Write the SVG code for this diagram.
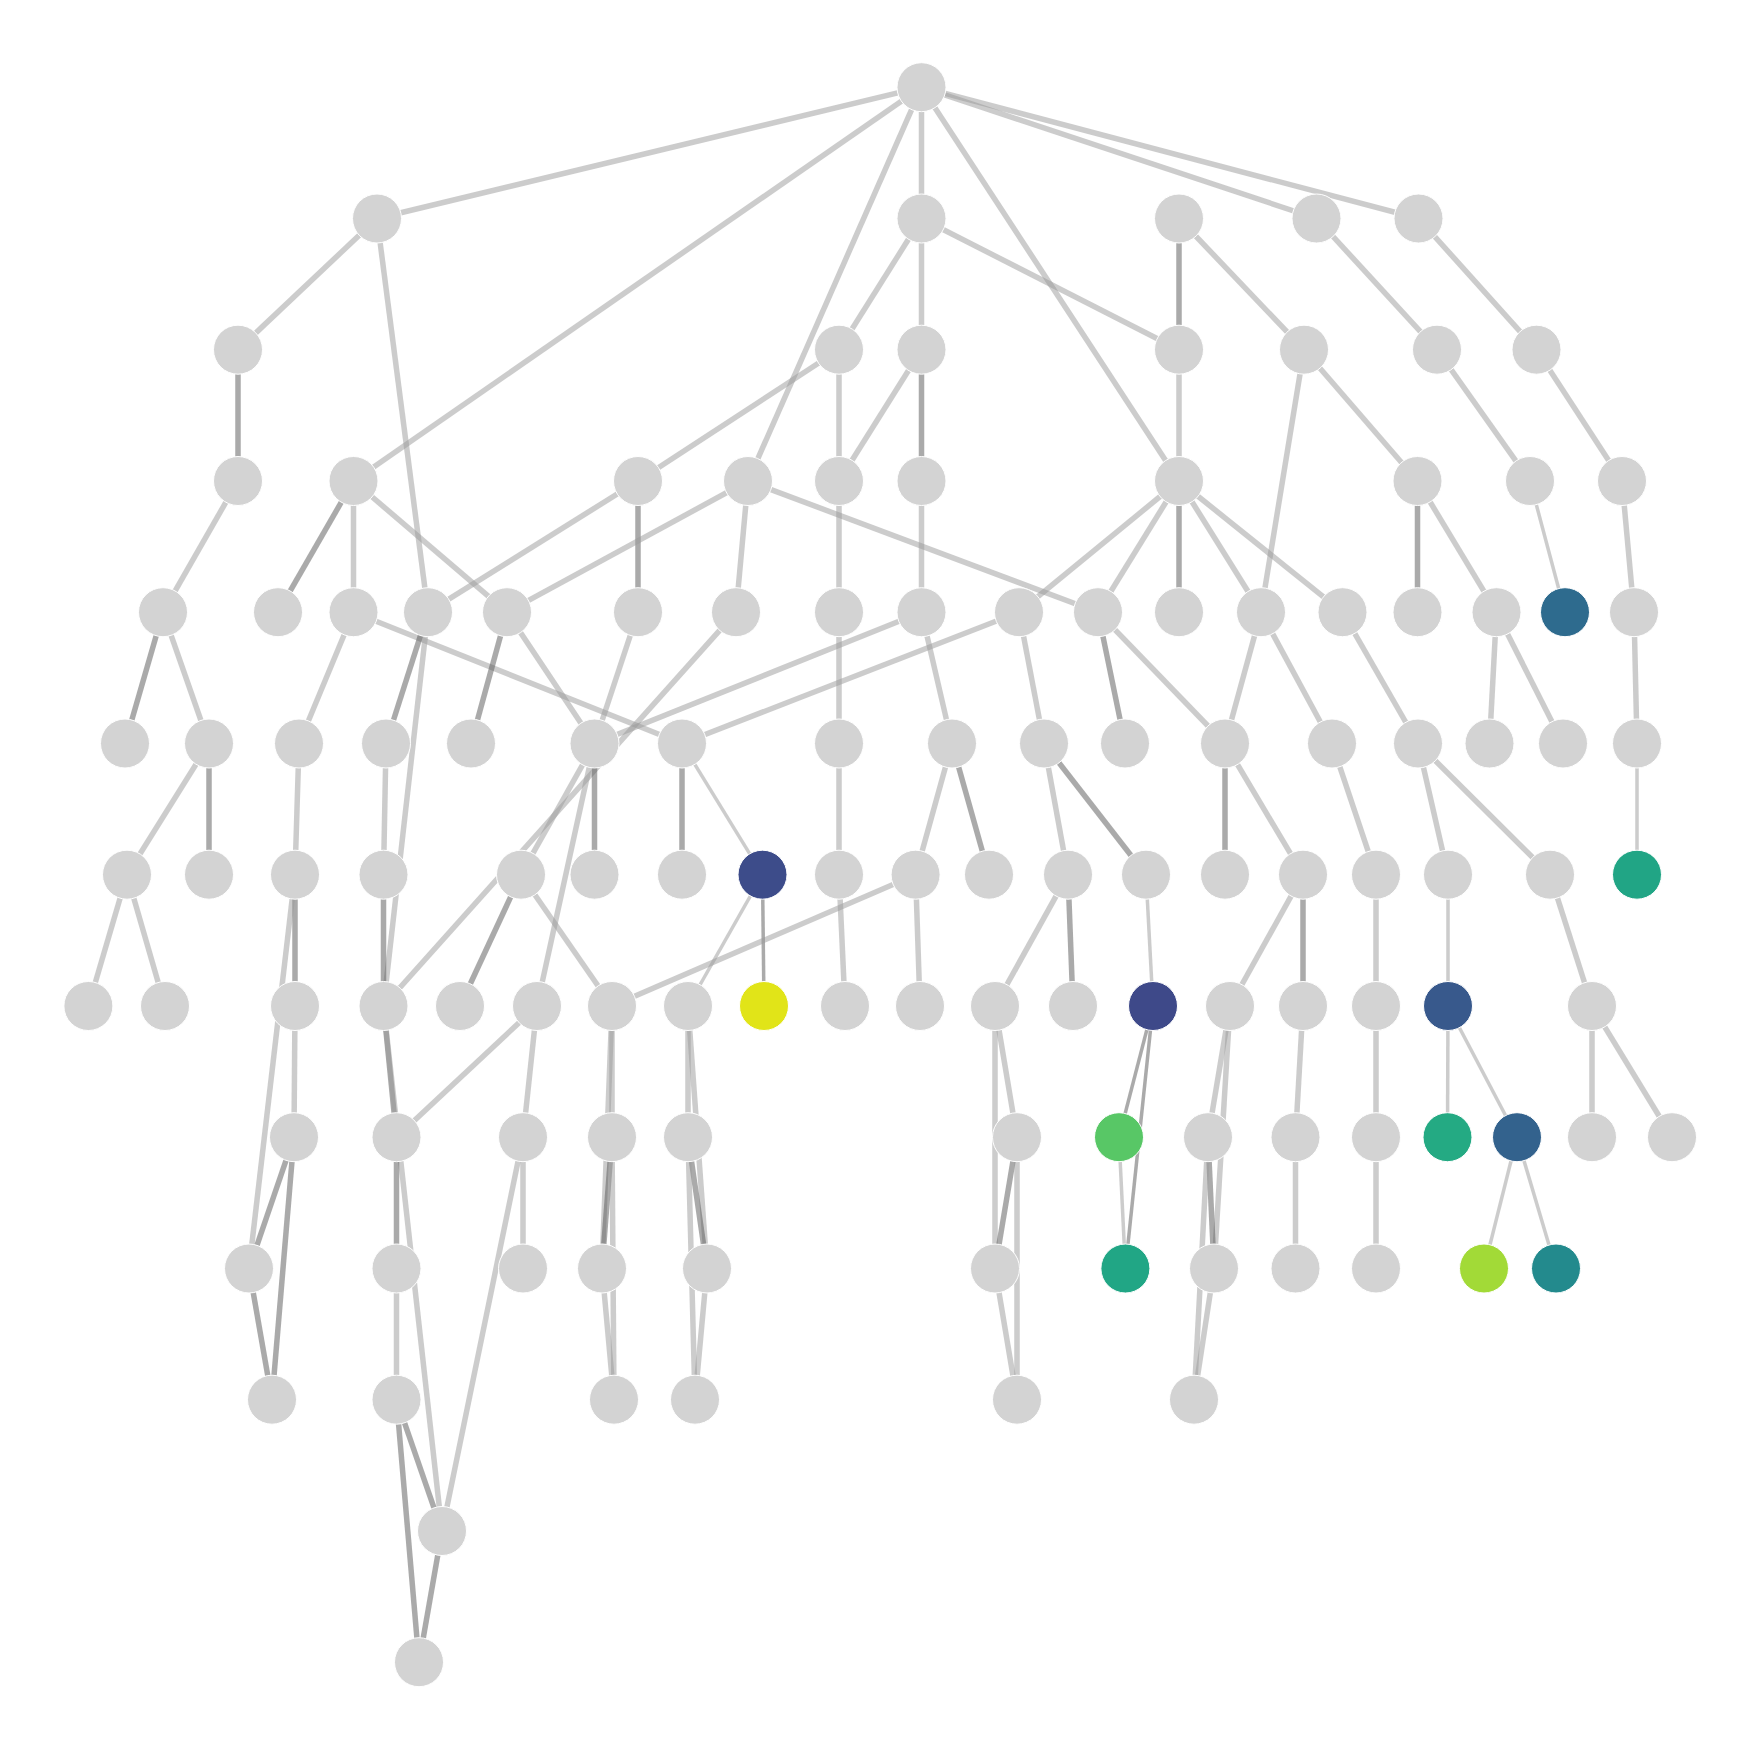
<svg xmlns="http://www.w3.org/2000/svg" width="1761" height="1750" viewBox="0 0 1761 1750">
<style>
.e line{stroke-linecap:butt}
.l{stroke:#999;stroke-opacity:.5;stroke-width:5.5}
.d{stroke:#555;stroke-opacity:.5;stroke-width:5.5}
.t{stroke:#999;stroke-opacity:.5;stroke-width:3.5}
.m{stroke:#555;stroke-opacity:.5;stroke-width:3.5}
.n circle{fill:#d3d3d3;stroke:#fff;stroke-width:1}
</style>
<rect width="1761" height="1750" fill="#fff"/>
<g id="edges" class="e">
<line class="l" x1="921.5" y1="87.2" x2="377" y2="218.5"/>
<line class="l" x1="921.5" y1="87.2" x2="353.5" y2="481"/>
<line class="l" x1="921.5" y1="87.2" x2="748" y2="481"/>
<line class="l" x1="921.5" y1="87.2" x2="921.5" y2="218.5"/>
<line class="l" x1="921.5" y1="87.2" x2="1179" y2="481"/>
<line class="l" x1="921.5" y1="87.2" x2="1316.5" y2="218.5"/>
<line class="l" x1="921.5" y1="87.2" x2="1418.5" y2="218.5"/>
<line class="l" x1="377" y1="218.5" x2="238" y2="349.7"/>
<line class="l" x1="377" y1="218.5" x2="428" y2="612.2"/>
<line class="l" x1="921.5" y1="218.5" x2="839" y2="349.7"/>
<line class="l" x1="921.5" y1="218.5" x2="921.5" y2="349.7"/>
<line class="l" x1="921.5" y1="218.5" x2="1179" y2="349.7"/>
<line class="d" x1="1179" y1="218.5" x2="1179" y2="349.7"/>
<line class="l" x1="1179" y1="218.5" x2="1304" y2="349.7"/>
<line class="l" x1="1316.5" y1="218.5" x2="1437" y2="349.7"/>
<line class="l" x1="1418.5" y1="218.5" x2="1536.5" y2="349.7"/>
<line class="d" x1="238" y1="349.7" x2="238" y2="481"/>
<line class="l" x1="839" y1="349.7" x2="638" y2="481"/>
<line class="l" x1="839" y1="349.7" x2="839" y2="481"/>
<line class="l" x1="921.5" y1="349.7" x2="839" y2="481"/>
<line class="d" x1="921.5" y1="349.7" x2="921.5" y2="481"/>
<line class="l" x1="1179" y1="349.7" x2="1179" y2="481"/>
<line class="l" x1="1304" y1="349.7" x2="1261" y2="612.2"/>
<line class="l" x1="1304" y1="349.7" x2="1417.5" y2="481"/>
<line class="l" x1="1437" y1="349.7" x2="1530" y2="481"/>
<line class="l" x1="1536.5" y1="349.7" x2="1622" y2="481"/>
<line class="l" x1="238" y1="481" x2="163" y2="612.2"/>
<line class="d" x1="353.5" y1="481" x2="278" y2="612.2"/>
<line class="l" x1="353.5" y1="481" x2="353.5" y2="612.2"/>
<line class="l" x1="353.5" y1="481" x2="507" y2="612.2"/>
<line class="l" x1="638" y1="481" x2="428" y2="612.2"/>
<line class="d" x1="638" y1="481" x2="638" y2="612.2"/>
<line class="l" x1="748" y1="481" x2="507" y2="612.2"/>
<line class="l" x1="748" y1="481" x2="736" y2="612.2"/>
<line class="l" x1="748" y1="481" x2="1098" y2="612.2"/>
<line class="l" x1="839" y1="481" x2="839" y2="612.2"/>
<line class="l" x1="921.5" y1="481" x2="921.5" y2="612.2"/>
<line class="l" x1="1179" y1="481" x2="1019" y2="612.2"/>
<line class="l" x1="1179" y1="481" x2="1098" y2="612.2"/>
<line class="d" x1="1179" y1="481" x2="1179" y2="612.2"/>
<line class="l" x1="1179" y1="481" x2="1261" y2="612.2"/>
<line class="l" x1="1179" y1="481" x2="1342.5" y2="612.2"/>
<line class="d" x1="1417.5" y1="481" x2="1417.5" y2="612.2"/>
<line class="l" x1="1417.5" y1="481" x2="1496.5" y2="612.2"/>
<line class="t" x1="1530" y1="481" x2="1565" y2="612.2"/>
<line class="l" x1="1622" y1="481" x2="1634" y2="612.2"/>
<line class="d" x1="163" y1="612.2" x2="125" y2="743.5"/>
<line class="l" x1="163" y1="612.2" x2="209" y2="743.5"/>
<line class="l" x1="353.5" y1="612.2" x2="299" y2="743.5"/>
<line class="l" x1="353.5" y1="612.2" x2="682" y2="743.5"/>
<line class="d" x1="428" y1="612.2" x2="386" y2="743.5"/>
<line class="l" x1="428" y1="612.2" x2="383.5" y2="1006"/>
<line class="d" x1="507" y1="612.2" x2="471" y2="743.5"/>
<line class="l" x1="507" y1="612.2" x2="594.5" y2="743.5"/>
<line class="l" x1="638" y1="612.2" x2="594.5" y2="743.5"/>
<line class="l" x1="736" y1="612.2" x2="383.5" y2="1006"/>
<line class="l" x1="839" y1="612.2" x2="839" y2="743.5"/>
<line class="l" x1="921.5" y1="612.2" x2="952" y2="743.5"/>
<line class="l" x1="921.5" y1="612.2" x2="594.5" y2="743.5"/>
<line class="l" x1="1019" y1="612.2" x2="682" y2="743.5"/>
<line class="l" x1="1019" y1="612.2" x2="1044" y2="743.5"/>
<line class="d" x1="1098" y1="612.2" x2="1125" y2="743.5"/>
<line class="l" x1="1098" y1="612.2" x2="1225" y2="743.5"/>
<line class="l" x1="1261" y1="612.2" x2="1225" y2="743.5"/>
<line class="l" x1="1261" y1="612.2" x2="1332" y2="743.5"/>
<line class="l" x1="1342.5" y1="612.2" x2="1418" y2="743.5"/>
<line class="l" x1="1496.5" y1="612.2" x2="1489.5" y2="743.5"/>
<line class="l" x1="1496.5" y1="612.2" x2="1563" y2="743.5"/>
<line class="l" x1="1634" y1="612.2" x2="1637" y2="743.5"/>
<line class="l" x1="209" y1="743.5" x2="127" y2="874.7"/>
<line class="d" x1="209" y1="743.5" x2="209" y2="874.7"/>
<line class="l" x1="299" y1="743.5" x2="295" y2="874.7"/>
<line class="l" x1="386" y1="743.5" x2="383.5" y2="874.7"/>
<line class="l" x1="594.5" y1="743.5" x2="521" y2="874.7"/>
<line class="d" x1="594.5" y1="743.5" x2="594.5" y2="874.7"/>
<line class="l" x1="594.5" y1="743.5" x2="537" y2="1006"/>
<line class="d" x1="682" y1="743.5" x2="682" y2="874.7"/>
<line class="t" x1="682" y1="743.5" x2="762.5" y2="874.7"/>
<line class="l" x1="839" y1="743.5" x2="839" y2="874.7"/>
<line class="l" x1="952" y1="743.5" x2="915.6" y2="874.7"/>
<line class="d" x1="952" y1="743.5" x2="989" y2="874.7"/>
<line class="l" x1="1044" y1="743.5" x2="1068" y2="874.7"/>
<line class="d" x1="1044" y1="743.5" x2="1146" y2="874.7"/>
<line class="d" x1="1225" y1="743.5" x2="1225" y2="874.7"/>
<line class="l" x1="1225" y1="743.5" x2="1303" y2="874.7"/>
<line class="l" x1="1332" y1="743.5" x2="1376" y2="874.7"/>
<line class="l" x1="1418" y1="743.5" x2="1448" y2="874.7"/>
<line class="l" x1="1418" y1="743.5" x2="1550" y2="874.7"/>
<line class="t" x1="1637" y1="743.5" x2="1637" y2="874.7"/>
<line class="l" x1="127" y1="874.7" x2="88.4" y2="1006"/>
<line class="l" x1="127" y1="874.7" x2="165" y2="1006"/>
<line class="d" x1="295" y1="874.7" x2="295" y2="1006"/>
<line class="l" x1="295" y1="874.7" x2="249" y2="1268.5"/>
<line class="d" x1="383.5" y1="874.7" x2="383.5" y2="1006"/>
<line class="d" x1="521" y1="874.7" x2="460" y2="1006"/>
<line class="l" x1="521" y1="874.7" x2="612" y2="1006"/>
<line class="m" x1="762.5" y1="874.7" x2="764" y2="1006"/>
<line class="t" x1="762.5" y1="874.7" x2="688" y2="1006"/>
<line class="l" x1="839" y1="874.7" x2="845" y2="1006"/>
<line class="l" x1="915.6" y1="874.7" x2="920" y2="1006"/>
<line class="l" x1="915.6" y1="874.7" x2="612" y2="1006"/>
<line class="l" x1="1068" y1="874.7" x2="995" y2="1006"/>
<line class="d" x1="1068" y1="874.7" x2="1073" y2="1006"/>
<line class="t" x1="1146" y1="874.7" x2="1153" y2="1006"/>
<line class="l" x1="1303" y1="874.7" x2="1230" y2="1006"/>
<line class="d" x1="1303" y1="874.7" x2="1303" y2="1006"/>
<line class="l" x1="1376" y1="874.7" x2="1376" y2="1006"/>
<line class="t" x1="1448" y1="874.7" x2="1448" y2="1006"/>
<line class="l" x1="1550" y1="874.7" x2="1592" y2="1006"/>
<line class="l" x1="295" y1="1006" x2="294" y2="1137.2"/>
<line class="d" x1="383.5" y1="1006" x2="396.5" y2="1137.2"/>
<line class="l" x1="383.5" y1="1006" x2="442" y2="1531"/>
<line class="l" x1="537" y1="1006" x2="396.5" y2="1137.2"/>
<line class="l" x1="537" y1="1006" x2="523" y2="1137.2"/>
<line class="l" x1="612" y1="1006" x2="612" y2="1137.2"/>
<line class="l" x1="612" y1="1006" x2="602" y2="1268.5"/>
<line class="l" x1="688" y1="1006" x2="688" y2="1137.2"/>
<line class="l" x1="688" y1="1006" x2="707" y2="1268.5"/>
<line class="l" x1="995" y1="1006" x2="1017" y2="1137.2"/>
<line class="l" x1="995" y1="1006" x2="995" y2="1268.5"/>
<line class="m" x1="1153" y1="1006" x2="1119" y2="1137.2"/>
<line class="m" x1="1153" y1="1006" x2="1125.4" y2="1268.5"/>
<line class="l" x1="1230" y1="1006" x2="1208" y2="1137.2"/>
<line class="l" x1="1230" y1="1006" x2="1214" y2="1268.5"/>
<line class="l" x1="1303" y1="1006" x2="1295.5" y2="1137.2"/>
<line class="l" x1="1376" y1="1006" x2="1376" y2="1137.2"/>
<line class="t" x1="1448" y1="1006" x2="1447.5" y2="1137.2"/>
<line class="t" x1="1448" y1="1006" x2="1517" y2="1137.2"/>
<line class="l" x1="1592" y1="1006" x2="1592" y2="1137.2"/>
<line class="l" x1="1592" y1="1006" x2="1672" y2="1137.2"/>
<line class="d" x1="294" y1="1137.2" x2="249" y2="1268.5"/>
<line class="d" x1="294" y1="1137.2" x2="272" y2="1399.7"/>
<line class="d" x1="396.5" y1="1137.2" x2="396.5" y2="1268.5"/>
<line class="l" x1="523" y1="1137.2" x2="523" y2="1268.5"/>
<line class="l" x1="523" y1="1137.2" x2="442" y2="1531"/>
<line class="d" x1="612" y1="1137.2" x2="602" y2="1268.5"/>
<line class="l" x1="612" y1="1137.2" x2="614" y2="1399.7"/>
<line class="d" x1="688" y1="1137.2" x2="707" y2="1268.5"/>
<line class="l" x1="688" y1="1137.2" x2="695" y2="1399.7"/>
<line class="d" x1="1017" y1="1137.2" x2="995" y2="1268.5"/>
<line class="l" x1="1017" y1="1137.2" x2="1017" y2="1399.7"/>
<line class="t" x1="1119" y1="1137.2" x2="1125.4" y2="1268.5"/>
<line class="d" x1="1208" y1="1137.2" x2="1214" y2="1268.5"/>
<line class="l" x1="1208" y1="1137.2" x2="1194" y2="1399.7"/>
<line class="l" x1="1295.5" y1="1137.2" x2="1295.5" y2="1268.5"/>
<line class="l" x1="1376" y1="1137.2" x2="1376" y2="1268.5"/>
<line class="t" x1="1517" y1="1137.2" x2="1484" y2="1268.5"/>
<line class="t" x1="1517" y1="1137.2" x2="1556" y2="1268.5"/>
<line class="d" x1="249" y1="1268.5" x2="272" y2="1399.7"/>
<line class="l" x1="396.5" y1="1268.5" x2="396.5" y2="1399.7"/>
<line class="l" x1="602" y1="1268.5" x2="614" y2="1399.7"/>
<line class="l" x1="707" y1="1268.5" x2="695" y2="1399.7"/>
<line class="l" x1="995" y1="1268.5" x2="1017" y2="1399.7"/>
<line class="l" x1="1214" y1="1268.5" x2="1194" y2="1399.7"/>
<line class="d" x1="396.5" y1="1399.7" x2="442" y2="1531"/>
<line class="d" x1="396.5" y1="1399.7" x2="419" y2="1662.2"/>
<line class="d" x1="442" y1="1531" x2="419" y2="1662.2"/>
</g>
<g class="n">
<g id="n0_0"><circle cx="921.5" cy="87.2" r="24.5"/></g>
<g id="n1_0"><circle cx="377" cy="218.5" r="24.5"/></g>
<g id="n1_1"><circle cx="921.5" cy="218.5" r="24.5"/></g>
<g id="n1_2"><circle cx="1179" cy="218.5" r="24.5"/></g>
<g id="n1_3"><circle cx="1316.5" cy="218.5" r="24.5"/></g>
<g id="n1_4"><circle cx="1418.5" cy="218.5" r="24.5"/></g>
<g id="n2_0"><circle cx="238" cy="349.7" r="24.5"/></g>
<g id="n2_1"><circle cx="839" cy="349.7" r="24.5"/></g>
<g id="n2_2"><circle cx="921.5" cy="349.7" r="24.5"/></g>
<g id="n2_3"><circle cx="1179" cy="349.7" r="24.5"/></g>
<g id="n2_4"><circle cx="1304" cy="349.7" r="24.5"/></g>
<g id="n2_5"><circle cx="1437" cy="349.7" r="24.5"/></g>
<g id="n2_6"><circle cx="1536.5" cy="349.7" r="24.5"/></g>
<g id="n3_0"><circle cx="238" cy="481" r="24.5"/></g>
<g id="n3_1"><circle cx="353.5" cy="481" r="24.5"/></g>
<g id="n3_2"><circle cx="638" cy="481" r="24.5"/></g>
<g id="n3_3"><circle cx="748" cy="481" r="24.5"/></g>
<g id="n3_4"><circle cx="839" cy="481" r="24.5"/></g>
<g id="n3_5"><circle cx="921.5" cy="481" r="24.5"/></g>
<g id="n3_6"><circle cx="1179" cy="481" r="24.5"/></g>
<g id="n3_7"><circle cx="1417.5" cy="481" r="24.5"/></g>
<g id="n3_8"><circle cx="1530" cy="481" r="24.5"/></g>
<g id="n3_9"><circle cx="1622" cy="481" r="24.5"/></g>
<g id="n4_0"><circle cx="163" cy="612.2" r="24.5"/></g>
<g id="n4_1"><circle cx="278" cy="612.2" r="24.5"/></g>
<g id="n4_2"><circle cx="353.5" cy="612.2" r="24.5"/></g>
<g id="n4_3"><circle cx="428" cy="612.2" r="24.5"/></g>
<g id="n4_4"><circle cx="507" cy="612.2" r="24.5"/></g>
<g id="n4_5"><circle cx="638" cy="612.2" r="24.5"/></g>
<g id="n4_6"><circle cx="736" cy="612.2" r="24.5"/></g>
<g id="n4_7"><circle cx="839" cy="612.2" r="24.5"/></g>
<g id="n4_8"><circle cx="921.5" cy="612.2" r="24.5"/></g>
<g id="n4_9"><circle cx="1019" cy="612.2" r="24.5"/></g>
<g id="n4_10"><circle cx="1098" cy="612.2" r="24.5"/></g>
<g id="n4_11"><circle cx="1179" cy="612.2" r="24.5"/></g>
<g id="n4_12"><circle cx="1261" cy="612.2" r="24.5"/></g>
<g id="n4_13"><circle cx="1342.5" cy="612.2" r="24.5"/></g>
<g id="n4_14"><circle cx="1417.5" cy="612.2" r="24.5"/></g>
<g id="n4_15"><circle cx="1496.5" cy="612.2" r="24.5"/></g>
<g id="n4_16"><circle cx="1565" cy="612.2" r="24.5" style="fill:#2e6b8e"/></g>
<g id="n4_17"><circle cx="1634" cy="612.2" r="24.5"/></g>
<g id="n5_0"><circle cx="125" cy="743.5" r="24.5"/></g>
<g id="n5_1"><circle cx="209" cy="743.5" r="24.5"/></g>
<g id="n5_2"><circle cx="299" cy="743.5" r="24.5"/></g>
<g id="n5_3"><circle cx="386" cy="743.5" r="24.5"/></g>
<g id="n5_4"><circle cx="471" cy="743.5" r="24.5"/></g>
<g id="n5_5"><circle cx="594.5" cy="743.5" r="24.5"/></g>
<g id="n5_6"><circle cx="682" cy="743.5" r="24.5"/></g>
<g id="n5_7"><circle cx="839" cy="743.5" r="24.5"/></g>
<g id="n5_8"><circle cx="952" cy="743.5" r="24.5"/></g>
<g id="n5_9"><circle cx="1044" cy="743.5" r="24.5"/></g>
<g id="n5_10"><circle cx="1125" cy="743.5" r="24.5"/></g>
<g id="n5_11"><circle cx="1225" cy="743.5" r="24.5"/></g>
<g id="n5_12"><circle cx="1332" cy="743.5" r="24.5"/></g>
<g id="n5_13"><circle cx="1418" cy="743.5" r="24.5"/></g>
<g id="n5_14"><circle cx="1489.5" cy="743.5" r="24.5"/></g>
<g id="n5_15"><circle cx="1563" cy="743.5" r="24.5"/></g>
<g id="n5_16"><circle cx="1637" cy="743.5" r="24.5"/></g>
<g id="n6_0"><circle cx="127" cy="874.7" r="24.5"/></g>
<g id="n6_1"><circle cx="209" cy="874.7" r="24.5"/></g>
<g id="n6_2"><circle cx="295" cy="874.7" r="24.5"/></g>
<g id="n6_3"><circle cx="383.5" cy="874.7" r="24.5"/></g>
<g id="n6_4"><circle cx="521" cy="874.7" r="24.5"/></g>
<g id="n6_5"><circle cx="594.5" cy="874.7" r="24.5"/></g>
<g id="n6_6"><circle cx="682" cy="874.7" r="24.5"/></g>
<g id="n6_7"><circle cx="762.5" cy="874.7" r="24.5" style="fill:#3d4c8a"/></g>
<g id="n6_8"><circle cx="839" cy="874.7" r="24.5"/></g>
<g id="n6_9"><circle cx="915.6" cy="874.7" r="24.5"/></g>
<g id="n6_10"><circle cx="989" cy="874.7" r="24.5"/></g>
<g id="n6_11"><circle cx="1068" cy="874.7" r="24.5"/></g>
<g id="n6_12"><circle cx="1146" cy="874.7" r="24.5"/></g>
<g id="n6_13"><circle cx="1225" cy="874.7" r="24.5"/></g>
<g id="n6_14"><circle cx="1303" cy="874.7" r="24.5"/></g>
<g id="n6_15"><circle cx="1376" cy="874.7" r="24.5"/></g>
<g id="n6_16"><circle cx="1448" cy="874.7" r="24.5"/></g>
<g id="n6_17"><circle cx="1550" cy="874.7" r="24.5"/></g>
<g id="n6_18"><circle cx="1637" cy="874.7" r="24.5" style="fill:#21a585"/></g>
<g id="n7_0"><circle cx="88.4" cy="1006" r="24.5"/></g>
<g id="n7_1"><circle cx="165" cy="1006" r="24.5"/></g>
<g id="n7_2"><circle cx="295" cy="1006" r="24.5"/></g>
<g id="n7_3"><circle cx="383.5" cy="1006" r="24.5"/></g>
<g id="n7_4"><circle cx="460" cy="1006" r="24.5"/></g>
<g id="n7_5"><circle cx="537" cy="1006" r="24.5"/></g>
<g id="n7_6"><circle cx="612" cy="1006" r="24.5"/></g>
<g id="n7_7"><circle cx="688" cy="1006" r="24.5"/></g>
<g id="n7_8"><circle cx="764" cy="1006" r="24.5" style="fill:#e1e418"/></g>
<g id="n7_9"><circle cx="845" cy="1006" r="24.5"/></g>
<g id="n7_10"><circle cx="920" cy="1006" r="24.5"/></g>
<g id="n7_11"><circle cx="995" cy="1006" r="24.5"/></g>
<g id="n7_12"><circle cx="1073" cy="1006" r="24.5"/></g>
<g id="n7_13"><circle cx="1153" cy="1006" r="24.5" style="fill:#3e4989"/></g>
<g id="n7_14"><circle cx="1230" cy="1006" r="24.5"/></g>
<g id="n7_15"><circle cx="1303" cy="1006" r="24.5"/></g>
<g id="n7_16"><circle cx="1376" cy="1006" r="24.5"/></g>
<g id="n7_17"><circle cx="1448" cy="1006" r="24.5" style="fill:#38598c"/></g>
<g id="n7_18"><circle cx="1592" cy="1006" r="24.5"/></g>
<g id="n8_0"><circle cx="294" cy="1137.2" r="24.5"/></g>
<g id="n8_1"><circle cx="396.5" cy="1137.2" r="24.5"/></g>
<g id="n8_2"><circle cx="523" cy="1137.2" r="24.5"/></g>
<g id="n8_3"><circle cx="612" cy="1137.2" r="24.5"/></g>
<g id="n8_4"><circle cx="688" cy="1137.2" r="24.5"/></g>
<g id="n8_5"><circle cx="1017" cy="1137.2" r="24.5"/></g>
<g id="n8_6"><circle cx="1119" cy="1137.2" r="24.5" style="fill:#58c766"/></g>
<g id="n8_7"><circle cx="1208" cy="1137.2" r="24.5"/></g>
<g id="n8_8"><circle cx="1295.5" cy="1137.2" r="24.5"/></g>
<g id="n8_9"><circle cx="1376" cy="1137.2" r="24.5"/></g>
<g id="n8_10"><circle cx="1447.5" cy="1137.2" r="24.5" style="fill:#24aa83"/></g>
<g id="n8_11"><circle cx="1517" cy="1137.2" r="24.5" style="fill:#33628d"/></g>
<g id="n8_12"><circle cx="1592" cy="1137.2" r="24.5"/></g>
<g id="n8_13"><circle cx="1672" cy="1137.2" r="24.5"/></g>
<g id="n9_0"><circle cx="249" cy="1268.5" r="24.5"/></g>
<g id="n9_1"><circle cx="396.5" cy="1268.5" r="24.5"/></g>
<g id="n9_2"><circle cx="523" cy="1268.5" r="24.5"/></g>
<g id="n9_3"><circle cx="602" cy="1268.5" r="24.5"/></g>
<g id="n9_4"><circle cx="707" cy="1268.5" r="24.5"/></g>
<g id="n9_5"><circle cx="995" cy="1268.5" r="24.5"/></g>
<g id="n9_6"><circle cx="1125.4" cy="1268.5" r="24.5" style="fill:#21a685"/></g>
<g id="n9_7"><circle cx="1214" cy="1268.5" r="24.5"/></g>
<g id="n9_8"><circle cx="1295.5" cy="1268.5" r="24.5"/></g>
<g id="n9_9"><circle cx="1376" cy="1268.5" r="24.5"/></g>
<g id="n9_10"><circle cx="1484" cy="1268.5" r="24.5" style="fill:#a2da37"/></g>
<g id="n9_11"><circle cx="1556" cy="1268.5" r="24.5" style="fill:#238a8d"/></g>
<g id="n10_0"><circle cx="272" cy="1399.7" r="24.5"/></g>
<g id="n10_1"><circle cx="396.5" cy="1399.7" r="24.5"/></g>
<g id="n10_2"><circle cx="614" cy="1399.7" r="24.5"/></g>
<g id="n10_3"><circle cx="695" cy="1399.7" r="24.5"/></g>
<g id="n10_4"><circle cx="1017" cy="1399.7" r="24.5"/></g>
<g id="n10_5"><circle cx="1194" cy="1399.7" r="24.5"/></g>
<g id="n11_0"><circle cx="442" cy="1531" r="24.5"/></g>
<g id="n12_0"><circle cx="419" cy="1662.2" r="24.5"/></g>
</g>
</svg>
